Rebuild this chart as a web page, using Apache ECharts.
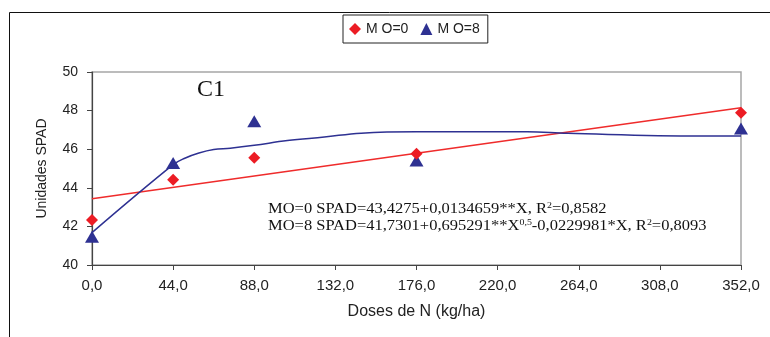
<!DOCTYPE html>
<html>
<head>
    <meta charset="utf-8">
    <title>C1 SPAD</title>
    <script src="https://cdn.jsdelivr.net/npm/echarts@6/dist/echarts.min.js"></script>
    <style>
        html,body{
            height:100%;
            width:100%;
            margin:0;
            padding:0;
            background:#fff;
        }
        #chart{
            width:770px;
            height:337px;
        }
    </style>
</head>
<body>
<div id="chart"></div>
<script>
    // doses de N (kg/ha)
    var doses = [0, 44, 88, 176, 352];
    // pontos observados
    var mo0Data = [42.33, 44.42, 45.56, 45.77, 47.89];
    var mo8Data = [41.47, 45.28, 47.45, 45.42, 47.07];
    // retas / curvas ajustadas
    var mo0FitX = [0, 352];
    var mo0FitY = [43.43, 48.15];
    var mo8FitX = [0, 44, 50, 58, 66, 75, 88, 106, 126, 146, 176, 236, 258, 330, 352];
    var mo8FitY = [41.68, 45.2, 45.52, 45.8, 45.98, 46.05, 46.2, 46.45, 46.63, 46.83, 46.9, 46.9, 46.82, 46.68, 46.68];
    // rótulos do eixo x
    var xTickLabels = ['0,0', '44,0', '88,0', '132,0', '176,0', '220,0', '264,0', '308,0', '352,0'];

    function pairs(xs, ys) {
        var out = [];
        for (var i = 0; i < xs.length; i++) out.push([xs[i], ys[i]]);
        return out;
    }

    var chart = echarts.init(document.getElementById('chart'));
    var sans = '"Liberation Sans", Arial, sans-serif';
    var serif = '"Liberation Serif", "Times New Roman", serif';

    var option = {
        animation: false,
        grid: {
            left: 92, top: 72, right: 29, bottom: 72,
            show: true, borderColor: '#a6a6a6', borderWidth: 1.5
        },
        legend: {
            left: 343, top: 15,
            borderColor: '#222', borderWidth: 1,
            padding: [7, 8, 7, 6],
            itemWidth: 12, itemHeight: 12, itemGap: 12,
            textStyle: { fontFamily: sans, fontSize: 14, color: '#222' },
            data: [
                { name: 'M O=0', icon: 'diamond' },
                { name: 'M O=8', icon: 'triangle' }
            ]
        },
        xAxis: {
            type: 'value', min: 0, max: 352, interval: 44,
            name: 'Doses de N (kg/ha)', nameLocation: 'middle', nameGap: 39,
            nameTextStyle: { fontFamily: sans, fontSize: 16, color: '#222' },
            axisLine: { lineStyle: { color: '#444', width: 1.2 } },
            axisTick: { length: 5, lineStyle: { color: '#444' } },
            splitLine: { show: false },
            axisLabel: {
                fontFamily: sans, fontSize: 15, color: '#222', margin: 13,
                formatter: function (v) { return xTickLabels[Math.round(v / 44)]; }
            }
        },
        yAxis: {
            type: 'value', min: 40, max: 50, interval: 2,
            name: 'Unidades SPAD', nameLocation: 'middle', nameGap: 43,
            nameTextStyle: { fontFamily: sans, fontSize: 14, color: '#222' },
            axisLine: { show: true, lineStyle: { color: '#444', width: 1.2 } },
            axisTick: { show: true, length: 5, lineStyle: { color: '#444' } },
            splitLine: { show: false },
            axisLabel: { fontFamily: sans, fontSize: 14, color: '#222', margin: 14 }
        },
        graphic: [
            { type: 'line', shape: { x1: 9.5, y1: 12.5, x2: 770, y2: 12.5 }, style: { stroke: '#111', lineWidth: 1 } },
            { type: 'line', shape: { x1: 9.5, y1: 12.5, x2: 9.5, y2: 337 }, style: { stroke: '#111', lineWidth: 1 } },
            {
                type: 'text', left: 197, top: 78,
                style: { text: 'C1', font: '24px ' + serif, fill: '#111' }
            },
            {
                type: 'text', x: 268, y: 201, scaleX: 1.1,
                style: {
                    text: 'MO=0 SPAD=43,4275+0,0134659**X, R{s|2}=0,8582\nMO=8 SPAD=41,7301+0,695291**X{s|0,5}-0,0229981*X, R{s|2}=0,8093',
                    font: '15px ' + serif, fill: '#111', lineHeight: 17,
                    rich: {
                        s: { fontSize: 9, fontFamily: serif, verticalAlign: 'top', lineHeight: 17, padding: [0, 0, 6, 0] }
                    }
                }
            }
        ],
        series: [
            {
                name: 'fit0', type: 'line', data: pairs(mo0FitX, mo0FitY),
                showSymbol: false, silent: true,
                lineStyle: { color: '#ef2b2b', width: 1.5 }
            },
            {
                name: 'fit8', type: 'line', data: pairs(mo8FitX, mo8FitY),
                showSymbol: false, silent: true, smooth: 0.4,
                lineStyle: { color: '#2e3192', width: 1.5 }
            },
            {
                name: 'M O=0', type: 'scatter', data: pairs(doses, mo0Data),
                symbol: 'diamond', symbolSize: [12, 12],
                itemStyle: { color: '#ec1c24', opacity: 1 }, z: 5
            },
            {
                name: 'M O=8', type: 'scatter', data: pairs(doses, mo8Data),
                symbol: 'triangle', symbolSize: [14, 12],
                itemStyle: { color: '#2e3192', opacity: 1 }, z: 4
            }
        ]
    };
    chart.setOption(option);
</script>
</body>
</html>
